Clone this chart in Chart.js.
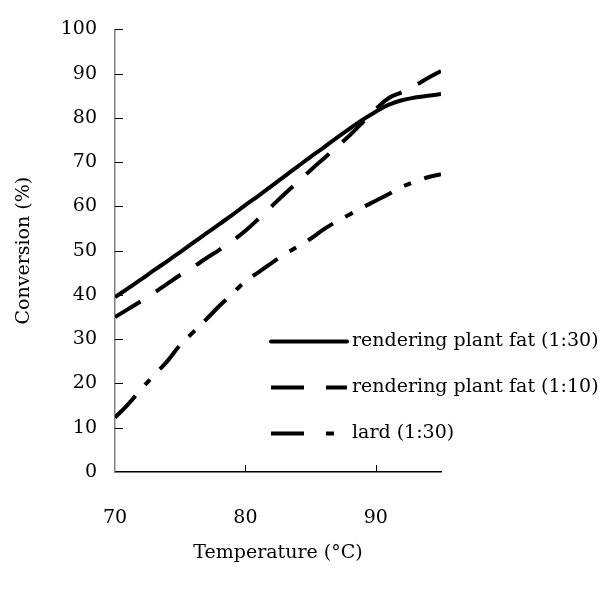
<!DOCTYPE html>
<html><head><meta charset="utf-8">
<script src="https://cdn.jsdelivr.net/npm/chart.js@4/dist/chart.umd.min.js"></script>
<style>html,body{margin:0;padding:0;background:#fff;}#wrap{width:603px;height:591px;position:relative;}</style>
</head><body><div id="wrap"><canvas id="c"></canvas></div>
<script>
const temperatures = [70,71,72,73,74,75,76,77,78,79,80,81,82,83,84,85,86,87,88,89,90,91,92,93,94,95];
const fat130 = [39.5,41.5,43.5,45.6,47.6,49.7,51.8,53.9,56.0,58.1,60.3,62.4,64.6,66.8,69.0,71.2,73.3,75.5,77.6,79.6,81.4,83.0,84.0,84.6,85.0,85.4];
const fat110 = [35.0,36.8,38.6,40.5,42.5,44.5,46.3,48.3,50.2,52.2,54.5,57.2,60.0,62.8,65.5,68.2,70.8,73.4,76.1,79.0,82.0,84.5,85.8,87.3,89.0,90.6];
const lard130 = [12.3,15.3,18.7,21.9,25.0,28.7,31.6,34.5,37.5,40.3,43.1,45.1,47.2,49.2,50.9,52.7,54.8,56.6,58.2,59.8,61.3,62.8,64.4,65.6,66.6,67.3];
const seriesLabels = ["rendering plant fat (1:30)", "rendering plant fat (1:10)", "lard (1:30)"];
const xTicks = [70, 80, 90];
const yTicks = [0,10,20,30,40,50,60,70,80,90,100];
const xTitle = "Temperature (°C)";
const yTitle = "Conversion (%)";

const FONT = {family: "'DejaVu Serif', serif", size: 19};

const tickMarks = {
  id: 'tickMarks',
  afterDatasetsDraw(chart) {
    const {ctx, chartArea, scales} = chart;
    ctx.save();
    ctx.strokeStyle = '#000';
    ctx.lineWidth = 1;
    scales.y.ticks.forEach(t => {
      if (t.value === 0) return;
      const p = Math.round(scales.y.getPixelForValue(t.value)) + 0.5;
      ctx.beginPath(); ctx.moveTo(chartArea.left, p); ctx.lineTo(chartArea.left + 8, p); ctx.stroke();
    });
    scales.x.ticks.forEach(t => {
      if (t.value === 70) return;
      const p = Math.round(scales.x.getPixelForValue(t.value)) + 0.5;
      ctx.beginPath(); ctx.moveTo(p, chartArea.bottom); ctx.lineTo(p, chartArea.bottom - 7); ctx.stroke();
    });
    ctx.restore();
  }
};

const innerLegend = {
  id: 'innerLegend',
  afterDraw(chart) {
    const {ctx} = chart;
    ctx.save();
    chart.data.datasets.forEach((ds, i) => {
      const y = 341.5 + i * 46;
      ctx.strokeStyle = '#000';
      ctx.lineWidth = 4;
      ctx.lineCap = i === 0 ? 'round' : 'butt';
      ctx.setLineDash(ds.legendDash || []);
      ctx.beginPath(); ctx.moveTo(271, y); ctx.lineTo(347, y); ctx.stroke();
      ctx.setLineDash([]);
      ctx.fillStyle = '#000';
      ctx.font = FONT.size + "px " + FONT.family;
      ctx.textBaseline = 'middle';
      ctx.textAlign = 'left';
      ctx.fillText(ds.label, 352, y);
    });
    ctx.restore();
  }
};

const mk = (label, data, dash, legendDash) => ({
  label, data, borderColor: '#000', borderWidth: 4, pointRadius: 0, tension: 0.4,
  fill: false, borderDash: dash, legendDash
});

new Chart(document.getElementById('c'), {
  type: 'line',
  data: {
    labels: temperatures,
    datasets: [
      mk(seriesLabels[0], fat130.map((v, i) => ({x: temperatures[i], y: v})), [], []),
      mk(seriesLabels[1], fat110.map((v, i) => ({x: temperatures[i], y: v})), [30, 18], [33, 22]),
      mk(seriesLabels[2], lard130.map((v, i) => ({x: temperatures[i], y: v})), [30, 14, 8, 14], [33, 22, 8, 30])
    ]
  },
  options: {
    responsive: true, maintainAspectRatio: false, animation: false, devicePixelRatio: 1,
    layout: {padding: {top: 28, right: 162, left: 0, bottom: 0}},
    plugins: {legend: {display: false}, tooltip: {enabled: false}},
    scales: {
      x: {
        type: 'linear', min: 70, max: 95,
        afterBuildTicks: s => { s.ticks = xTicks.map(v => ({value: v})); },
        afterFit: s => { s.height = 119; },
        ticks: {font: FONT, color: '#000', padding: 35, maxRotation: 0},
        grid: {display: true, drawOnChartArea: false, drawTicks: false},
        border: {display: true, color: '#000', width: 1.5},
        title: {display: true, text: xTitle, font: FONT, color: '#000', padding: {top: 0, bottom: 27}}
      },
      y: {
        type: 'linear', min: 0, max: 100,
        afterBuildTicks: s => { s.ticks = yTicks.map(v => ({value: v})); },
        afterFit: s => { s.width = 115; },
        ticks: {font: FONT, color: '#000', padding: 18},
        grid: {display: true, drawOnChartArea: false, drawTicks: false},
        border: {display: true, color: '#808080', width: 1.5},
        title: {display: true, text: yTitle, font: FONT, color: '#000', padding: {top: 13, bottom: 0}}
      }
    }
  },
  plugins: [tickMarks, innerLegend]
});
</script></body></html>
